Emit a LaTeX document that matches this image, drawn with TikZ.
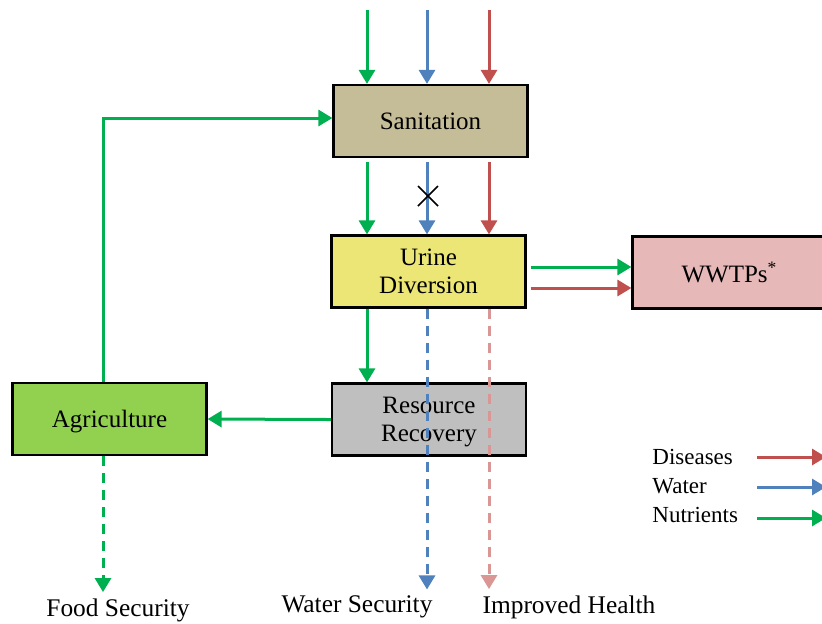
\documentclass[tikz,border=0pt]{standalone}
\usepackage{fontspec}
\setmainfont{Liberation Serif}
\usetikzlibrary{arrows.meta}
\definecolor{nutgreen}{HTML}{00B050}
\definecolor{watblue}{HTML}{4F81BD}
\definecolor{disred}{HTML}{C0504D}
\definecolor{healthpink}{HTML}{D99694}
\definecolor{sanfill}{HTML}{C4BD97}
\definecolor{urinefill}{HTML}{EBE675}
\definecolor{recfill}{HTML}{BFBFBF}
\definecolor{agrifill}{HTML}{92D050}
\definecolor{wwtpfill}{HTML}{E6B9B8}
\begin{document}
\begin{tikzpicture}[x=0.5pt, y=-0.5pt]
    \tikzstyle{unit} = [draw, line width=1.1pt, rectangle, minimum width=97pt, minimum height=36pt, align=center, font=\rmfamily\fontsize{12.5}{14}\selectfont, inner sep=1pt, text depth=0pt]
    \tikzstyle{flow} = [line width=1.5pt, -{Triangle[length=7pt, width=8pt]}]
    \tikzstyle{goal} = [flow, dashed, dash pattern=on 5pt off 3.5pt]
    \tikzstyle{legend} = [anchor=west, font=\rmfamily\fontsize{11.5}{13}\selectfont, inner sep=0pt]
    \tikzstyle{outcome} = [font=\rmfamily\fontsize{12.7}{14}\selectfont, inner sep=0pt]

    \useasboundingbox (0,0) rectangle (822,623);

    % boxes
    \node[unit, fill=sanfill] (sanit) at (430.5,121) {Sanitation};
    \node[unit, fill=urinefill] (urine) at (428.5,271.5) {Urine\\Diversion};
    \node[unit, fill=recfill] (recov) at (429,419.5) {Resource\\Recovery};
    \node[unit, fill=agrifill] (agri) at (109.5,419) {Agriculture};
    \node[unit, fill=wwtpfill] (wwtp) at (729.5,272.5) {WWTPs\textsuperscript{*}};

    % outcomes
    \node[outcome] (food) at (118,610) {Food Security};
    \node[outcome] (watersec) at (357,607) {Water Security};
    \node[outcome] (health) at (569,607) {Improved Health};

    % columns and rows
    \coordinate (fx) at (103,0);
    \coordinate (gx) at (367,10);
    \coordinate (bx) at (427,10);
    \coordinate (rx) at (489,10);
    \coordinate (gy) at (0,267);
    \coordinate (ry) at (0,288);

    % inflows
    \draw[flow, nutgreen] (gx) -- (gx |- sanit.north);
    \draw[flow, watblue] (bx) -- (bx |- sanit.north);
    \draw[flow, disred] (rx) -- (rx |- sanit.north);

    % sanitation to urine diversion
    \draw[flow, nutgreen, shorten <=2pt] (gx |- sanit.south) -- (gx |- urine.north);
    \draw[flow, watblue, shorten <=2pt] (bx |- sanit.south) -- (bx |- urine.north);
    \draw[flow, disred, shorten <=2pt] (rx |- sanit.south) -- (rx |- urine.north);
    \draw[line width=0.8pt] (418,186) -- (438,206) (418,206) -- (438,186);

    % urine diversion onwards
    \draw[flow, nutgreen] (gx |- urine.south) -- (gx |- recov.north);
    \draw[flow, nutgreen, shorten <=2pt] (urine.east |- gy) -- (wwtp.west |- gy);
    \draw[flow, disred, shorten <=2pt] (urine.east |- ry) -- (wwtp.west |- ry);
    \draw[goal, watblue, shorten >=3pt] (bx |- urine.south) -- (bx |- watersec.north);
    \draw[goal, healthpink, shorten >=3pt] (rx |- urine.south) -- (rx |- health.north);

    % recovery loop
    \draw[flow, nutgreen] (recov.west) -- (agri.east);
    \draw[flow, nutgreen] (fx |- agri.north) |- ([yshift=1.5pt]sanit.west);
    \draw[goal, nutgreen, shorten >=3pt] (fx |- agri.south) -- (fx |- food.north);

    % legend
    \node[legend] (ldis) at (652,457) {Diseases};
    \node[legend] (lwat) at (652,486) {Water};
    \node[legend] (lnut) at (652,515) {Nutrients};
    \draw[flow, disred] (757,457) -- (826,457);
    \draw[flow, watblue] (757,487) -- (826,487);
    \draw[flow, nutgreen] (757,518) -- (826,518);
\end{tikzpicture}
\end{document}
